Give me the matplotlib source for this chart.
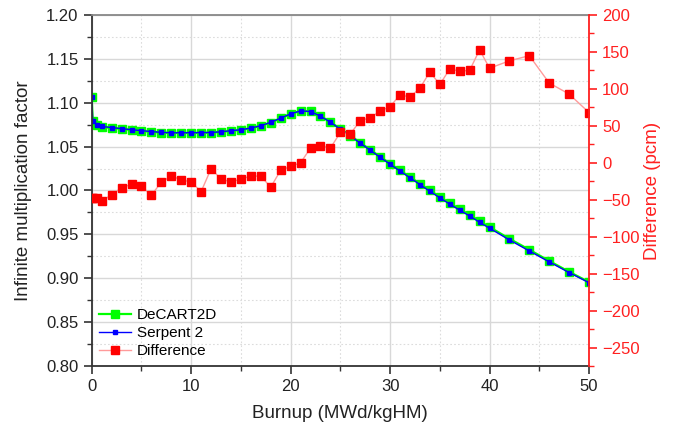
import matplotlib
matplotlib.use("Agg")
import matplotlib.pyplot as plt
from matplotlib.ticker import MultipleLocator

plt.rcParams['font.family'] = ['Liberation Sans', 'DejaVu Sans']

# Burnup steps (MWd/kgHM)
burnup = [0, 0.1, 0.5, 1, 2, 3, 4, 5, 6, 7, 8, 9, 10, 11, 12, 13, 14, 15, 16, 17,
          18, 19, 20, 21, 22, 23, 24, 25, 26, 27, 28, 29, 30, 31, 32, 33, 34, 35,
          36, 37, 38, 39, 40, 42, 44, 46, 48, 50]

# k-inf, DeCART2D
k_decart = [1.1060, 1.0792, 1.0744, 1.0725, 1.0713, 1.0702, 1.0690, 1.0679, 1.0667,
            1.0660, 1.0656, 1.0656, 1.0656, 1.0656, 1.0660, 1.0667, 1.0679, 1.0690,
            1.0710, 1.0736, 1.0774, 1.0824, 1.0873, 1.0907, 1.0902, 1.0849, 1.0780,
            1.0702, 1.0626, 1.0545, 1.0465, 1.0385, 1.0307, 1.0230, 1.0154, 1.0078,
            1.0002, 0.9928, 0.9857, 0.9788, 0.9722, 0.9652, 0.9583, 0.9450, 0.9325,
            0.9197, 0.9074, 0.8956]

# Difference (pcm) DeCART2D - Serpent 2
diff = [-47, -47, -48, -52, -43, -34, -29, -32, -44, -26, -18, -23, -26, -39, -8,
        -22, -26, -22, -18, -18, -33, -10, -5, 0, 20, 23, 20, 41, 39, 57, 61, 70,
        76, 92, 89, 101, 123, 106, 127, 124, 125, 153, 128, 138, 145, 108, 93, 68]

# k-inf, Serpent 2
k_serpent = [k - d * 1e-5 for k, d in zip(k_decart, diff)]

fig = plt.figure(figsize=(6.76, 4.23), dpi=100)
ax = fig.add_axes([0.1357, 0.1348, 0.7356, 0.8297])
ax2 = ax.twinx()

l1, = ax.plot(burnup, k_decart, color='#00ff00', lw=1.6, marker='s', ms=5.5,
              mec='#00ff00', mfc='#00ff00', label='DeCART2D')
l2, = ax.plot(burnup, k_serpent, color='#0000ff', lw=1.0, marker='s', ms=3.2,
              mec='#0000ff', mfc='#0000ff', label='Serpent 2')
l3, = ax2.plot(burnup, diff, color='#ff9a9a', lw=1.0, marker='s', ms=6.4,
               mec='#ff0000', mfc='#ff0000', label='Difference')

ax.set_xlim(0, 50)
ax.set_ylim(0.80, 1.20)
ax2.set_ylim(-275, 200)

ax.xaxis.set_major_locator(MultipleLocator(10))
ax.xaxis.set_minor_locator(MultipleLocator(5))
ax.yaxis.set_major_locator(MultipleLocator(0.05))
ax.yaxis.set_minor_locator(MultipleLocator(0.025))
ax.yaxis.set_major_formatter(lambda v, p: f'{v:.2f}')
ax2.yaxis.set_major_locator(MultipleLocator(50))
ax2.yaxis.set_minor_locator(MultipleLocator(25))

ax.grid(which='major', color='#d8d8d8', lw=1.0, ls='-')
ax.grid(which='minor', color='#dcdcdc', lw=0.8, ls=(0, (1.5, 2)))
ax.set_axisbelow(True)

dark = '#333333'
red = '#ff2020'
for s in ['left', 'bottom']:
    ax.spines[s].set_color(dark)
    ax.spines[s].set_linewidth(1.3)
ax.spines['top'].set_color('#888888')
ax.spines['top'].set_linewidth(1.3)
ax.spines['right'].set_visible(False)
ax2.spines['left'].set_visible(False)
ax2.spines['bottom'].set_visible(False)
ax2.spines['top'].set_visible(False)
ax2.spines['right'].set_color(red)
ax2.spines['right'].set_linewidth(1.3)

ax.tick_params(which='major', direction='out', length=6, width=1.2, color=dark,
               labelsize=12, labelcolor='#222222', top=False, right=False)
ax.tick_params(which='minor', direction='out', length=3.5, width=1.0, color=dark,
               top=False, right=False)
ax2.tick_params(which='major', direction='out', length=6, width=1.2, color=red,
                labelsize=12, labelcolor=red)
ax2.tick_params(which='minor', direction='out', length=3.5, width=1.0, color=red)

ax.set_xlabel('Burnup (MWd/kgHM)', fontsize=13.5, color='#222222', labelpad=8)
ax.set_ylabel('Infinite multiplication factor', fontsize=13.5, color='#222222', labelpad=10)
ax2.set_ylabel('Difference (pcm)', fontsize=13.5, color=red, labelpad=3)

ax2.legend(handles=[l1, l2, l3], loc='lower left', frameon=False, fontsize=11,
           handlelength=2.1, handletextpad=0.35, labelspacing=0.26,
           borderaxespad=0.1, bbox_to_anchor=(0.0, 0.0))

fig.savefig('out.png', dpi=100)
